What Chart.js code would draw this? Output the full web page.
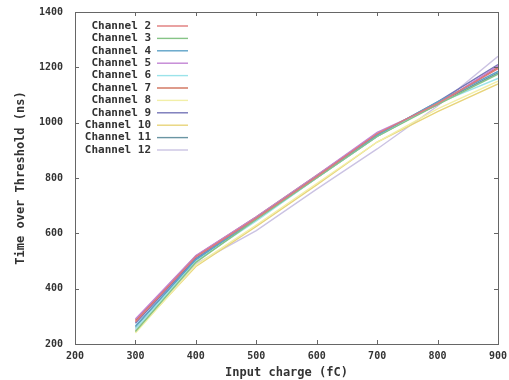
<!DOCTYPE html>
<html><head><meta charset="utf-8">
<script src="https://cdn.jsdelivr.net/npm/chart.js@4/dist/chart.umd.min.js"></script>
<style>html,body{margin:0;padding:0;background:#fff}#wrap{width:509px;height:380px}</style>
</head><body><div id="wrap"><canvas id="c" width="509" height="380"></canvas></div>
<script>
const charges = [300, 400, 500, 600, 700, 800, 900];
const channelNames = ["Channel 2","Channel 3","Channel 4","Channel 5","Channel 6","Channel 7","Channel 8","Channel 9","Channel 10","Channel 11","Channel 12"];
const ch2  = [280, 515, 655, 805, 960, 1070, 1195];
const ch3  = [245, 495, 650, 800, 950, 1065, 1175];
const ch4  = [265, 505, 655, 805, 955, 1075, 1185];
const ch5  = [290, 520, 660, 810, 965, 1065, 1205];
const ch6  = [255, 500, 645, 800, 950, 1070, 1160];
const ch7  = [285, 518, 660, 810, 960, 1065, 1200];
const ch8  = [240, 485, 630, 780, 930, 1050, 1150];
const ch9  = [275, 510, 655, 805, 955, 1075, 1210];
const ch10 = [245, 480, 625, 775, 930, 1040, 1140];
const ch11 = [260, 505, 650, 800, 950, 1070, 1180];
const ch12 = [250, 490, 610, 760, 905, 1060, 1240];
const xTicks = [200, 300, 400, 500, 600, 700, 800, 900];
const yTicks = [200, 400, 600, 800, 1000, 1200, 1400];

const series = [ch2, ch3, ch4, ch5, ch6, ch7, ch8, ch9, ch10, ch11, ch12];
const colors = ["#e07a7a","#86c486","#5fa3c8","#c285d4","#9be3ea","#d0705a","#f2efa8","#7777b8","#e8d47a","#6a95a3","#cbc3e3"];

const datasets = series.map((s, i) => ({
  label: channelNames[i],
  data: s.map((v, j) => ({x: charges[j], y: v})),
  borderColor: colors[i],
  backgroundColor: colors[i],
  borderWidth: 1.4,
  pointRadius: 0,
  tension: 0,
  fill: false
}));

const frame = {
  id: 'frame',
  afterDraw(chart) {
    const {ctx, chartArea: a, scales: {x, y}} = chart;
    ctx.save();
    ctx.strokeStyle = '#666';
    ctx.lineWidth = 1;
    ctx.strokeRect(Math.round(a.left)+0.5, Math.round(a.top)+0.5, Math.round(a.right-a.left), Math.round(a.bottom-a.top));
    const t = 4;
    ctx.beginPath();
    xTicks.forEach(v => {
      const px = Math.round(x.getPixelForValue(v)) + 0.5;
      ctx.moveTo(px, a.bottom); ctx.lineTo(px, a.bottom - t);
      ctx.moveTo(px, a.top); ctx.lineTo(px, a.top + t);
    });
    yTicks.forEach(v => {
      const py = Math.round(y.getPixelForValue(v)) + 0.5;
      ctx.moveTo(a.left, py); ctx.lineTo(a.left + t, py);
      ctx.moveTo(a.right, py); ctx.lineTo(a.right - t, py);
    });
    ctx.stroke();
    // legend
    ctx.font = 'bold 11px "DejaVu Sans Mono"';
    ctx.textAlign = 'right';
    ctx.textBaseline = 'middle';
    chart.data.datasets.forEach((d, i) => {
      const yy = 26 + i * 12.4;
      ctx.fillStyle = '#333';
      ctx.fillText(d.label, 151, yy);
      ctx.strokeStyle = d.borderColor;
      ctx.lineWidth = 1.4;
      ctx.beginPath();
      ctx.moveTo(157, yy); ctx.lineTo(188, yy);
      ctx.stroke();
    });
    ctx.restore();
  }
};

new Chart(document.getElementById('c'), {
  type: 'line',
  data: {datasets},
  options: {
    responsive: false,
    animation: false,
    layout: {padding: {left: 14, right: 11, top: 12, bottom: 0}, autoPadding: false},
    plugins: {legend: {display: false}, tooltip: {enabled: false}},
    scales: {
      x: {
        type: 'linear', min: 200, max: 900,
        afterBuildTicks: s => { s.ticks = xTicks.map(v => ({value: v})); },
        afterFit: s => { s.height = 36; s.paddingLeft = 0; s.paddingRight = 0; },
        grid: {display: false, drawTicks: false},
        border: {display: false},
        ticks: {color: '#333', font: {family: 'DejaVu Sans Mono', size: 10, weight: 'bold'}, padding: 6, maxRotation: 0,
                callback: v => String(v)},
        title: {display: true, text: 'Input charge (fC)', color: '#333', font: {family: 'DejaVu Sans Mono', size: 12, weight: 'bold'}, padding: {top: 0, bottom: 0}}
      },
      y: {
        min: 200, max: 1400,
        afterBuildTicks: s => { s.ticks = yTicks.map(v => ({value: v})); },
        afterFit: s => { s.width = 61; s.paddingTop = 0; s.paddingBottom = 0; },
        grid: {display: false, drawTicks: false},
        border: {display: false},
        ticks: {color: '#333', font: {family: 'DejaVu Sans Mono', size: 10, weight: 'bold'}, padding: 12,
                callback: v => String(v)},
        title: {display: true, text: 'Time over Threshold (ns)', color: '#333', font: {family: 'DejaVu Sans Mono', size: 12, weight: 'bold'}, padding: {top: 0, bottom: 0}}
      }
    }
  },
  plugins: [frame]
});
</script></body></html>
